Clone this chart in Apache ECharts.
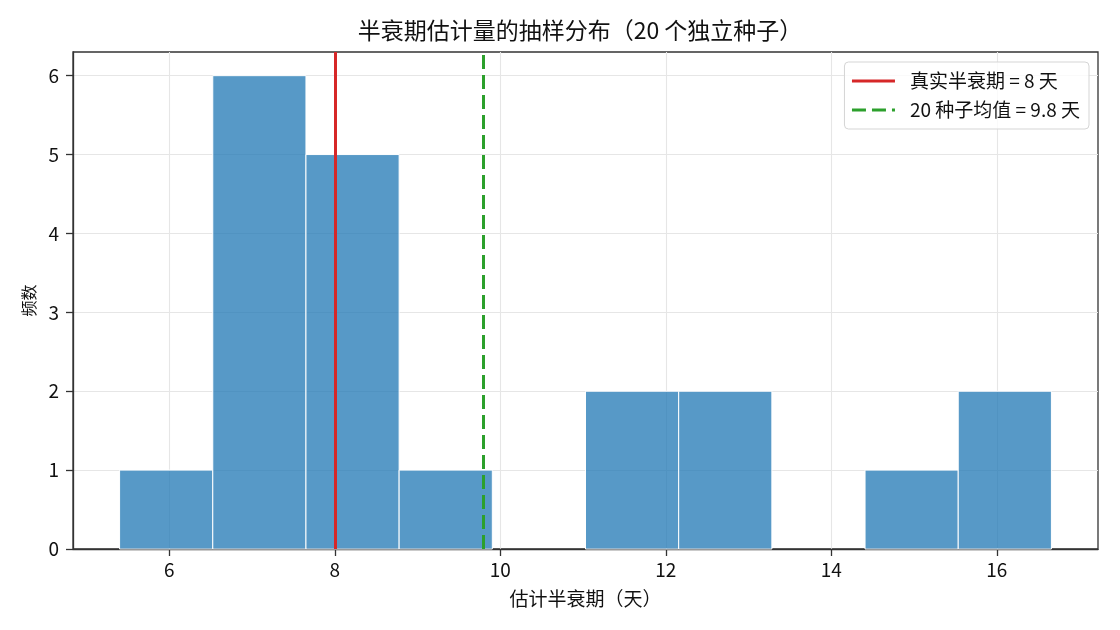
<!DOCTYPE html>
<html><head><meta charset="utf-8">
<script src="https://cdn.jsdelivr.net/npm/echarts@6/dist/echarts.min.js"></script>
<style>html,body{margin:0;padding:0;background:#fff}#c{width:1120px;height:630px}</style>
</head><body><div id="c"></div>
<script>
// ---- data ----
const binEdges = [5.40, 6.526, 7.652, 8.778, 9.904, 11.03, 12.156, 13.282, 14.408, 15.534, 16.66];
const counts = [1, 6, 5, 1, 0, 2, 2, 0, 1, 2];
const xTicks = [6, 8, 10, 12, 14, 16];
const yTicks = [0, 1, 2, 3, 4, 5, 6];
const trueHalfLife = 8;
const seedMean = 9.8;
const xRange = [4.837, 17.223];
const yRange = [0, 6.3];
const trueLabel = '真实半衰期 = 8 天';
const meanLabel = '20 种子均值 = 9.8 天';

const bins = counts.map((c, i) => [binEdges[i], binEdges[i + 1], c]);
const FONT = '"Noto Sans CJK SC", "Noto Sans", sans-serif';
const TXT = '#111';

const chart = echarts.init(document.getElementById('c'), null, {renderer: 'canvas'});
chart.setOption({
  animation: false,
  backgroundColor: '#fff',
  title: {
    text: '半衰期估计量的抽样分布（20 个独立种子）',
    left: 580, top: 19, textAlign: 'center', padding: 0,
    textStyle: {fontFamily: FONT, fontSize: 23, fontWeight: 'normal', color: TXT}
  },
  grid: {left: 73, right: 22, top: 52, bottom: 81, show: true, borderColor: '#333', borderWidth: 1.3, backgroundColor: 'transparent'},
  legend: {
    orient: 'vertical', right: 31, top: 62,
    padding: [8, 9, 8, 6], itemWidth: 43, itemHeight: 14, itemGap: 7,
    backgroundColor: 'rgba(255,255,255,0.8)', borderColor: '#d5d5d5', borderWidth: 1, borderRadius: 4,
    itemStyle: {opacity: 0, borderWidth: 0},
    lineStyle: {width: 3},
    textStyle: {fontFamily: FONT, fontSize: 19, color: TXT, lineHeight: 22, padding: [0, 0, 0, 10]},
    data: [trueLabel, meanLabel]
  },
  xAxis: {
    type: 'value', min: xRange[0], max: xRange[1], minInterval: 2, maxInterval: 2, splitNumber: 6,
    name: '估计半衰期（天）', nameLocation: 'middle', nameGap: 40,
    nameTextStyle: {fontFamily: FONT, fontSize: 19, color: TXT},
    axisLine: {show: true, onZero: false, lineStyle: {color: '#333', width: 1.3}},
    axisTick: {show: true, length: 7, customValues: xTicks, lineStyle: {color: '#333', width: 1.3}},
    axisLabel: {customValues: xTicks, margin: 11, fontFamily: FONT, fontSize: 19, color: TXT},
    splitLine: {show: true, lineStyle: {color: '#e6e6e6', width: 1.1}}
  },
  yAxis: {
    type: 'value', min: yRange[0], max: yRange[1], minInterval: 1, maxInterval: 1,
    name: '频数', nameLocation: 'middle', nameGap: 36,
    nameTextStyle: {fontFamily: FONT, fontSize: 16, color: TXT},
    axisLine: {show: true, onZero: false, lineStyle: {color: '#333', width: 1.3}},
    axisTick: {show: true, length: 7, customValues: yTicks, lineStyle: {color: '#333', width: 1.3}},
    axisLabel: {customValues: yTicks, margin: 14, fontFamily: FONT, fontSize: 19, color: TXT},
    splitLine: {show: true, lineStyle: {color: '#e6e6e6', width: 1.1}}
  },
  series: [
    {
      type: 'custom', name: 'hist', data: bins, z: 2,
      encode: {x: [0, 1], y: 2},
      renderItem(params, api) {
        const h = api.value(2);
        if (!h) return null;
        const p0 = api.coord([api.value(0), h]);
        const p1 = api.coord([api.value(1), 0]);
        return {
          type: 'rect',
          shape: {x: p0[0], y: p0[1], width: p1[0] - p0[0], height: p1[1] - p0[1]},
          style: {fill: 'rgba(31,119,180,0.75)', stroke: '#ffffff', lineWidth: 1}
        };
      }
    },
    {
      type: 'line', name: trueLabel, data: [], symbol: 'none', showSymbol: false, z: 4,
      color: '#d62728',
      lineStyle: {color: '#d62728', width: 3},
      markLine: {
        silent: true, symbol: ['none', 'none'], label: {show: false},
        lineStyle: {color: '#d62728', width: 3, type: 'solid'},
        emphasis: {disabled: true},
        data: [{xAxis: trueHalfLife}]
      }
    },
    {
      type: 'line', name: meanLabel, data: [], symbol: 'none', showSymbol: false, z: 4,
      color: '#2ca02c',
      lineStyle: {color: '#2ca02c', width: 3, type: [14, 6]},
      markLine: {
        silent: true, symbol: ['none', 'none'], label: {show: false},
        lineStyle: {color: '#2ca02c', width: 3, type: [14, 6]},
        emphasis: {disabled: true},
        data: [{xAxis: seedMean}]
      }
    }
  ]
});
</script>
</body></html>
